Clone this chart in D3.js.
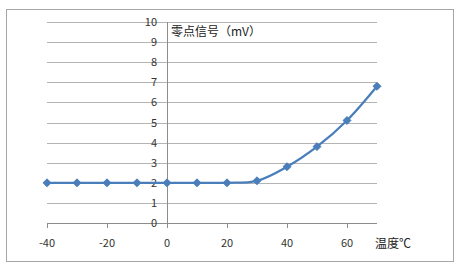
<!DOCTYPE html>
<html>
<head>
<meta charset="utf-8">
<script src="https://cdn.jsdelivr.net/npm/d3@7"></script>
<style>
  body { margin: 0; background: #fff; }
  svg text { font-family: "Noto Sans CJK SC", "DejaVu Sans", sans-serif; }
</style>
</head>
<body>
<svg id="chart" width="460" height="269"></svg>
<script>
// Data
const temps = [-40, -30, -20, -10, 0, 10, 20, 30, 40, 50, 60, 70];
const signal = [2, 2, 2, 2, 2, 2, 2, 2.1, 2.8, 3.8, 5.1, 6.8];
const yTicks = [0, 1, 2, 3, 4, 5, 6, 7, 8, 9, 10];
const xTicks = [-40, -20, 0, 20, 40, 60];
const yTitle = "零点信号（mV）";
const xTitle = "温度℃";

const svg = d3.select("#chart");

// outer frame
svg.append("rect")
  .attr("x", 6.5).attr("y", 9.5)
  .attr("width", 447).attr("height", 252)
  .attr("fill", "#fff")
  .attr("stroke", "#a6a6a6")
  .attr("stroke-width", 1);

const x = d3.scaleLinear().domain([-40, 70]).range([47, 377]);
const y = d3.scaleLinear().domain([0, 10]).range([223, 22]);

// gridlines
svg.append("g")
  .selectAll("line")
  .data(yTicks)
  .join("line")
  .attr("x1", x(-40)).attr("x2", x(70))
  .attr("y1", d => Math.round(y(d)) + 0.5)
  .attr("y2", d => Math.round(y(d)) + 0.5)
  .attr("stroke", d => d === 0 ? "#8c8c8c" : "#b4b4b4")
  .attr("stroke-width", 1);

// x ticks (below x axis)
svg.append("g")
  .selectAll("line")
  .data(xTicks)
  .join("line")
  .attr("x1", d => Math.round(x(d)) + 0.5)
  .attr("x2", d => Math.round(x(d)) + 0.5)
  .attr("y1", Math.round(y(0)))
  .attr("y2", Math.round(y(0)) + 5)
  .attr("stroke", "#8c8c8c");

// vertical axis at x = 0
svg.append("line")
  .attr("x1", Math.round(x(0)) + 0.5).attr("x2", Math.round(x(0)) + 0.5)
  .attr("y1", y(10)).attr("y2", y(0) + 5)
  .attr("stroke", "#8c8c8c");

// y tick labels
svg.append("g")
  .selectAll("text")
  .data(yTicks)
  .join("text")
  .attr("x", 157)
  .attr("y", d => y(d) + 4)
  .attr("text-anchor", "end")
  .attr("font-size", 11)
  .attr("fill", "#333")
  .text(d => d);

// x tick labels
svg.append("g")
  .selectAll("text")
  .data(xTicks)
  .join("text")
  .attr("x", d => x(d))
  .attr("y", 247)
  .attr("text-anchor", "middle")
  .attr("font-size", 11)
  .attr("fill", "#333")
  .text(d => d);

// axis titles
svg.append("text")
  .attr("x", 171).attr("y", 36)
  .attr("font-size", 12)
  .attr("fill", "#222")
  .text(yTitle);

svg.append("text")
  .attr("x", 375).attr("y", 248)
  .attr("font-size", 12)
  .attr("fill", "#222")
  .text(xTitle);

// smoothed series line
const pts = temps.map((t, i) => [t, signal[i]]);
const line = d3.line()
  .x(d => x(d[0]))
  .y(d => y(d[1]))
  .curve(d3.curveCatmullRom.alpha(0.5));

svg.append("path")
  .datum(pts)
  .attr("d", line)
  .attr("fill", "none")
  .attr("stroke", "#4a7ebb")
  .attr("stroke-width", 2.25);

// diamond markers
const diamond = d3.symbol().type(d3.symbolDiamond2).size(40);
svg.append("g")
  .selectAll("path")
  .data(pts)
  .join("path")
  .attr("transform", d => `translate(${x(d[0])},${y(d[1])})`)
  .attr("d", diamond)
  .attr("fill", "#4a7ebb")
  .attr("stroke", "#4a7ebb");
</script>
</body>
</html>
